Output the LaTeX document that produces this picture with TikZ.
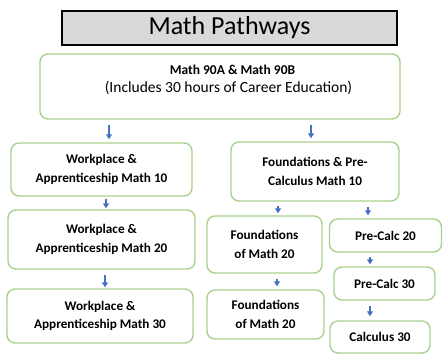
\documentclass[tikz,border=0pt]{standalone}
\usepackage{fontspec}
\setmainfont{Carlito}
\usetikzlibrary{arrows.meta}
\definecolor{boxgreen}{HTML}{A9D18E}
\definecolor{arrblue}{HTML}{4472C4}
\definecolor{titlegray}{HTML}{D9D9D9}
\tikzset{
  gbox/.style={draw=boxgreen, line width=1.4pt, rounded corners=8pt, fill=white,
    inner sep=0pt, align=center, font=\fontsize{13.2}{18.5}\selectfont\bfseries},
  arr/.style={draw=arrblue, line width=1.3pt, -{Triangle[width=6pt,length=5pt]}},
}
\begin{document}
\begin{tikzpicture}[x=1pt,y=-1pt]
\useasboundingbox (0,0) rectangle (443,355);
\node[draw=black, line width=1.2pt, fill=titlegray, minimum width=335pt, minimum height=34pt,
  inner sep=0pt, font=\fontsize{26}{28}\selectfont] (title) at (229.5,28) {Math Pathways};
\node[gbox, minimum width=360pt, minimum height=65pt] (top) at (220,86.5) {};
\node[anchor=base, inner sep=0pt, font=\fontsize{13.5}{16}\selectfont\bfseries] (toptext) at (232.5,75)
  {Math 90A \& Math 90B};
\node[anchor=base, inner sep=0pt, font=\fontsize{15.5}{18}\selectfont] (topsub) at (228.5,93)
  {(Includes 30 hours of Career Education)};
\node[gbox, minimum width=181pt, minimum height=53pt] (wa10) at (101.5,169.5) {Workplace \&\\Apprenticeship Math 10};
\node[gbox, minimum width=187pt, minimum height=59pt] (wa20) at (101.5,239.5) {Workplace \&\\Apprenticeship Math 20};
\node[gbox, minimum width=186pt, minimum height=54pt] (wa30) at (100,316) {Workplace \&\\Apprenticeship Math 30};
\node[gbox, minimum width=168pt, minimum height=59pt] (fpc10) at (315,171.5) {Foundations \& Pre-\\Calculus Math 10};
\node[gbox, minimum width=115pt, minimum height=57pt] (fm20) at (264.5,244.5) {Foundations\\of Math 20};
\node[gbox, minimum width=117pt, minimum height=49pt] (fm20b) at (265.5,314.5) {Foundations\\of Math 20};
\node[gbox, minimum width=112pt, minimum height=33pt] (pc20) at (385.5,235.5) {Pre-Calc 20};
\node[gbox, minimum width=101pt, minimum height=33pt] (pc30) at (384.5,283.5) {Pre-Calc 30};
\node[gbox, minimum width=100pt, minimum height=32pt] (calc30) at (380,337) {Calculus 30};
\coordinate (x1) at (109,0);
\coordinate (x2) at (311,0);
\coordinate (x3) at (106,0);
\coordinate (x4) at (105,0);
\coordinate (x5) at (278,0);
\coordinate (x6) at (368,0);
\coordinate (x7) at (370,0);
\coordinate (x8) at (277,0);
\draw[arr, shorten <=5pt, shorten >=3pt] (top.south -| x1) -- (wa10.north -| x1);
\draw[arr, shorten <=5pt, shorten >=3pt] (top.south -| x2) -- (fpc10.north -| x2);
\draw[arr, shorten <=2pt, shorten >=1pt] (wa10.south -| x3) -- (wa20.north -| x3);
\draw[arr, shorten <=5pt, shorten >=1pt] (wa20.south -| x4) -- (wa30.north -| x4);
\draw[arr, shorten <=4pt, shorten >=2pt] (fpc10.south -| x5) -- (fm20.north -| x5);
\draw[arr, shorten <=5pt, shorten >=3pt] (fpc10.south -| x6) -- (pc20.north -| x6);
\draw[arr, shorten <=4pt, shorten >=2pt] (pc20.south -| x7) -- (pc30.north -| x7);
\draw[arr, shorten <=5pt, shorten >=4pt] (pc30.south -| x7) -- (calc30.north -| x7);
\draw[arr, shorten <=5pt, shorten >=3pt] (fm20.south -| x8) -- (fm20b.north -| x8);
\end{tikzpicture}
\end{document}
